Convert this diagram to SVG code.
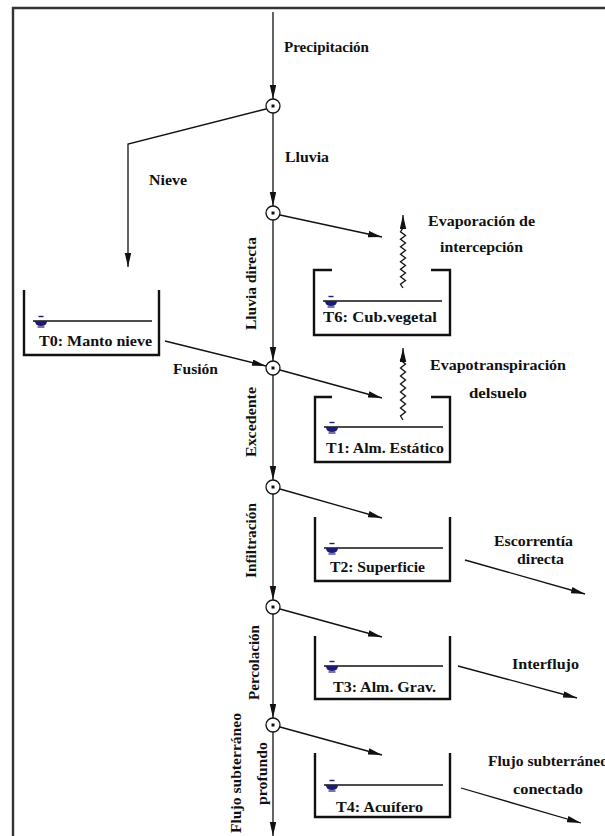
<svg xmlns="http://www.w3.org/2000/svg" width="605" height="836" viewBox="0 0 605 836">
<defs>
<style>
.t{font-family:"Liberation Serif","DejaVu Serif",serif;font-weight:bold;font-size:14.5px;fill:#111}
.ln{stroke:#111;stroke-width:1.3;fill:none}
.tank{stroke:#111;stroke-width:2.4;fill:none}
.wl{stroke:#111;stroke-width:1.3}
.nd{fill:#fff;stroke:#111;stroke-width:1.3}
.ws{fill:#1c1c78}
.frame{stroke:#333;stroke-width:2.4;fill:none}
</style>
<marker id="ah" markerWidth="15" markerHeight="7" refX="14" refY="3.25" orient="auto" markerUnits="userSpaceOnUse">
<path d="M0,0 L14,3.25 L0,6.5 Z" fill="#111"/>
</marker>
<g id="wsym">
<line x1="-2.5" y1="-4.5" x2="2.5" y2="-4.5" stroke="#1c1c78" stroke-width="1.4"/>
<path class="ws" d="M-6,0 L6,0 Q6,5 0,5 Q-6,5 -6,0 Z"/>
<line x1="-3.5" y1="6" x2="3.5" y2="6" stroke="#1c1c78" stroke-width="1.2"/>
</g>
</defs>
<rect width="605" height="836" fill="#fff"/>
<path class="frame" d="M13,836 L13,8 L605,8"/>

<g id="connectors">
<line class="ln" x1="273" y1="12" x2="273" y2="99" marker-end="url(#ah)"/>
<polyline class="ln" points="266,109 128,144 128,267" marker-end="url(#ah)"/>
<line class="ln" x1="273" y1="113" x2="273" y2="206" marker-end="url(#ah)"/>
<line class="ln" x1="273" y1="220" x2="273" y2="361" marker-end="url(#ah)"/>
<line class="ln" x1="273" y1="375" x2="273" y2="480" marker-end="url(#ah)"/>
<line class="ln" x1="273" y1="494" x2="273" y2="600" marker-end="url(#ah)"/>
<line class="ln" x1="273" y1="614" x2="273" y2="718" marker-end="url(#ah)"/>
<line class="ln" x1="273" y1="732" x2="273" y2="836" marker-end="url(#ah)"/>
<line class="ln" x1="280" y1="215" x2="382" y2="237" marker-end="url(#ah)"/>
<line class="ln" x1="280" y1="370" x2="382" y2="398" marker-end="url(#ah)"/>
<line class="ln" x1="280" y1="489" x2="382" y2="518" marker-end="url(#ah)"/>
<line class="ln" x1="280" y1="609" x2="382" y2="637" marker-end="url(#ah)"/>
<line class="ln" x1="280" y1="727" x2="382" y2="755" marker-end="url(#ah)"/>
<line class="ln" x1="165" y1="341" x2="266" y2="366" marker-end="url(#ah)"/>
<line class="ln" x1="465" y1="560" x2="585" y2="594" marker-end="url(#ah)"/>
<line class="ln" x1="458" y1="666" x2="577" y2="698" marker-end="url(#ah)"/>
<line class="ln" x1="461" y1="788" x2="581" y2="823" marker-end="url(#ah)"/>
<path class="ln" d="M403,288 l-2.5,-3.75 l5,-3.75 l-5,-3.75 l5,-3.75 l-5,-3.75 l5,-3.75 l-5,-3.75 l5,-3.75 l-5,-3.75 l5,-3.75 l-5,-3.75 l5,-3.75 l-5,-3.75 l5,-3.75 l-5,-3.75 l2.5,-3.75 L403,215" marker-end="url(#ah)"/>
<path class="ln" d="M403,420 l-2.5,-4 l5,-4 l-5,-4 l5,-4 l-5,-4 l5,-4 l-5,-4 l5,-4 l-5,-4 l5,-4 l-5,-4 l5,-4 l-5,-4 l5,-4 l-5,-4 l2.5,-4 L403,348" marker-end="url(#ah)"/>
</g>

<g id="n1"><circle class="nd" cx="273" cy="106" r="7"/><rect x="271.5" y="104.5" width="3" height="3" fill="#111"/></g>
<g id="n2"><circle class="nd" cx="273" cy="213" r="7"/><rect x="271.5" y="211.5" width="3" height="3" fill="#111"/></g>
<g id="n3"><circle class="nd" cx="273" cy="368" r="7"/><rect x="271.5" y="366.5" width="3" height="3" fill="#111"/></g>
<g id="n4"><circle class="nd" cx="273" cy="487" r="7"/><rect x="271.5" y="485.5" width="3" height="3" fill="#111"/></g>
<g id="n5"><circle class="nd" cx="273" cy="607" r="7"/><rect x="271.5" y="605.5" width="3" height="3" fill="#111"/></g>
<g id="n6"><circle class="nd" cx="273" cy="725" r="7"/><rect x="271.5" y="723.5" width="3" height="3" fill="#111"/></g>

<g id="T0">
<path class="tank" d="M24,290 V355 H159 V290"/>
<line class="wl" x1="33" y1="321" x2="152" y2="321"/>
<use href="#wsym" x="41" y="321"/>
<text class="t" x="39" y="346" textLength="113" lengthAdjust="spacingAndGlyphs">T0: Manto nieve</text>
</g>
<g id="T6">
<path class="tank" d="M332,270 H314 V335 H450 V270 H431"/>
<line class="wl" x1="323" y1="301" x2="442" y2="301"/>
<use href="#wsym" x="331" y="301"/>
<text class="t" x="323" y="322" textLength="114" lengthAdjust="spacingAndGlyphs">T6: Cub.vegetal</text>
</g>
<g id="T1">
<path class="tank" d="M332,397 H315 V462 H450 V397 H431"/>
<line class="wl" x1="324" y1="427" x2="443" y2="427"/>
<use href="#wsym" x="332" y="427"/>
<text class="t" x="326" y="453" textLength="118" lengthAdjust="spacingAndGlyphs">T1: Alm. Estático</text>
</g>
<g id="T2">
<path class="tank" d="M315,517 V581 H450 V517"/>
<line class="wl" x1="324" y1="548" x2="443" y2="548"/>
<use href="#wsym" x="332" y="548"/>
<text class="t" x="330" y="572" textLength="95" lengthAdjust="spacingAndGlyphs">T2: Superficie</text>
</g>
<g id="T3">
<path class="tank" d="M315,636 V699 H450 V636"/>
<line class="wl" x1="324" y1="666" x2="443" y2="666"/>
<use href="#wsym" x="332" y="666"/>
<text class="t" x="333" y="692" textLength="103" lengthAdjust="spacingAndGlyphs">T3: Alm. Grav.</text>
</g>
<g id="T4">
<path class="tank" d="M315,753 V817 H450 V753"/>
<line class="wl" x1="324" y1="785" x2="443" y2="785"/>
<use href="#wsym" x="332" y="785"/>
<text class="t" x="336" y="812" textLength="87" lengthAdjust="spacingAndGlyphs">T4: Acuífero</text>
</g>

<g id="labels">
<text class="t" x="284" y="52" textLength="85" lengthAdjust="spacingAndGlyphs">Precipitación</text>
<text class="t" x="285" y="162" textLength="44" lengthAdjust="spacingAndGlyphs">Lluvia</text>
<text class="t" x="149" y="185" textLength="38" lengthAdjust="spacingAndGlyphs">Nieve</text>
<text class="t" x="428" y="226" textLength="107" lengthAdjust="spacingAndGlyphs">Evaporación de</text>
<text class="t" x="440" y="252" textLength="83" lengthAdjust="spacingAndGlyphs">intercepción</text>
<text class="t" x="173" y="374" textLength="45" lengthAdjust="spacingAndGlyphs">Fusión</text>
<text class="t" x="430" y="370" textLength="136" lengthAdjust="spacingAndGlyphs">Evapotranspiración</text>
<text class="t" x="469" y="398" textLength="58" lengthAdjust="spacingAndGlyphs">delsuelo</text>
<text class="t" x="494" y="546" textLength="79" lengthAdjust="spacingAndGlyphs">Escorrentía</text>
<text class="t" x="517" y="564" textLength="47" lengthAdjust="spacingAndGlyphs">directa</text>
<text class="t" x="512" y="669" textLength="67" lengthAdjust="spacingAndGlyphs">Interflujo</text>
<text class="t" x="488" y="766" textLength="120" lengthAdjust="spacingAndGlyphs">Flujo subterráneo</text>
<text class="t" x="513" y="794" textLength="70" lengthAdjust="spacingAndGlyphs">conectado</text>
<text class="t" transform="translate(256,330) rotate(-90)" textLength="93" lengthAdjust="spacingAndGlyphs">Lluvia directa</text>
<text class="t" transform="translate(256,457) rotate(-90)" textLength="70" lengthAdjust="spacingAndGlyphs">Excedente</text>
<text class="t" transform="translate(256,578) rotate(-90)" textLength="75" lengthAdjust="spacingAndGlyphs">Infiltración</text>
<text class="t" transform="translate(259,700) rotate(-90)" textLength="75" lengthAdjust="spacingAndGlyphs">Percolación</text>
<text class="t" transform="translate(241,833) rotate(-90)" textLength="120" lengthAdjust="spacingAndGlyphs">Flujo subterráneo</text>
<text class="t" transform="translate(267,805) rotate(-90)" textLength="63" lengthAdjust="spacingAndGlyphs">profundo</text>
</g>
</svg>
